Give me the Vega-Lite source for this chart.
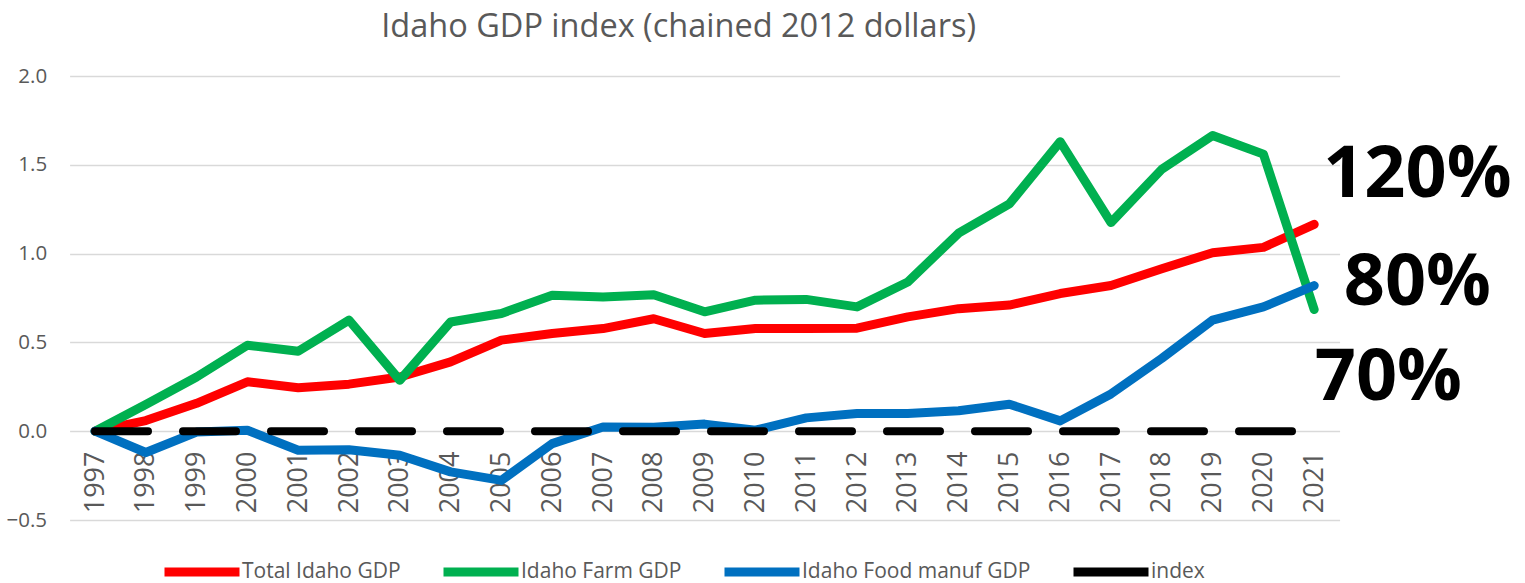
{
  "$schema": "https://vega.github.io/schema/vega-lite/v6.json",
  "width": 1270,
  "height": 444,
  "autosize": {"type": "none"},
  "padding": {"left": 69.6, "top": 76, "right": 185.4, "bottom": 63},
  "background": "white",
  "config": {
    "view": {"stroke": null},
    "font": "Open Sans",
    "axis": {"labelFont": "Open Sans", "labelColor": "#595959", "domain": false, "ticks": false, "tickSize": 0, "title": null},
    "legend": {"labelFont": "Open Sans"}
  },
  "title": {
    "text": "Idaho GDP index (chained 2012 dollars)",
    "font": "Open Sans",
    "fontSize": 32.5,
    "fontWeight": "normal",
    "color": "#595959",
    "anchor": "middle",
    "dx": -26,
    "offset": 23
  },
  "datasets": {
    "gdp": [
      {"year": 1997, "series": "Total Idaho GDP", "value": 0},
      {"year": 1998, "series": "Total Idaho GDP", "value": 0.06},
      {"year": 1999, "series": "Total Idaho GDP", "value": 0.157},
      {"year": 2000, "series": "Total Idaho GDP", "value": 0.278},
      {"year": 2001, "series": "Total Idaho GDP", "value": 0.245},
      {"year": 2002, "series": "Total Idaho GDP", "value": 0.265},
      {"year": 2003, "series": "Total Idaho GDP", "value": 0.305},
      {"year": 2004, "series": "Total Idaho GDP", "value": 0.39},
      {"year": 2005, "series": "Total Idaho GDP", "value": 0.513},
      {"year": 2006, "series": "Total Idaho GDP", "value": 0.55},
      {"year": 2007, "series": "Total Idaho GDP", "value": 0.578},
      {"year": 2008, "series": "Total Idaho GDP", "value": 0.633},
      {"year": 2009, "series": "Total Idaho GDP", "value": 0.55},
      {"year": 2010, "series": "Total Idaho GDP", "value": 0.578},
      {"year": 2011, "series": "Total Idaho GDP", "value": 0.578},
      {"year": 2012, "series": "Total Idaho GDP", "value": 0.58},
      {"year": 2013, "series": "Total Idaho GDP", "value": 0.644},
      {"year": 2014, "series": "Total Idaho GDP", "value": 0.69},
      {"year": 2015, "series": "Total Idaho GDP", "value": 0.71},
      {"year": 2016, "series": "Total Idaho GDP", "value": 0.775},
      {"year": 2017, "series": "Total Idaho GDP", "value": 0.82},
      {"year": 2018, "series": "Total Idaho GDP", "value": 0.915},
      {"year": 2019, "series": "Total Idaho GDP", "value": 1.005},
      {"year": 2020, "series": "Total Idaho GDP", "value": 1.035},
      {"year": 2021, "series": "Total Idaho GDP", "value": 1.165},
      {"year": 1997, "series": "Idaho Farm GDP", "value": 0},
      {"year": 1998, "series": "Idaho Farm GDP", "value": 0.15},
      {"year": 1999, "series": "Idaho Farm GDP", "value": 0.305},
      {"year": 2000, "series": "Idaho Farm GDP", "value": 0.484},
      {"year": 2001, "series": "Idaho Farm GDP", "value": 0.45},
      {"year": 2002, "series": "Idaho Farm GDP", "value": 0.625},
      {"year": 2003, "series": "Idaho Farm GDP", "value": 0.287},
      {"year": 2004, "series": "Idaho Farm GDP", "value": 0.615},
      {"year": 2005, "series": "Idaho Farm GDP", "value": 0.663},
      {"year": 2006, "series": "Idaho Farm GDP", "value": 0.766},
      {"year": 2007, "series": "Idaho Farm GDP", "value": 0.756},
      {"year": 2008, "series": "Idaho Farm GDP", "value": 0.768},
      {"year": 2009, "series": "Idaho Farm GDP", "value": 0.672},
      {"year": 2010, "series": "Idaho Farm GDP", "value": 0.738},
      {"year": 2011, "series": "Idaho Farm GDP", "value": 0.742},
      {"year": 2012, "series": "Idaho Farm GDP", "value": 0.7},
      {"year": 2013, "series": "Idaho Farm GDP", "value": 0.84},
      {"year": 2014, "series": "Idaho Farm GDP", "value": 1.115},
      {"year": 2015, "series": "Idaho Farm GDP", "value": 1.28},
      {"year": 2016, "series": "Idaho Farm GDP", "value": 1.63},
      {"year": 2017, "series": "Idaho Farm GDP", "value": 1.175},
      {"year": 2018, "series": "Idaho Farm GDP", "value": 1.475},
      {"year": 2019, "series": "Idaho Farm GDP", "value": 1.665},
      {"year": 2020, "series": "Idaho Farm GDP", "value": 1.56},
      {"year": 2021, "series": "Idaho Farm GDP", "value": 0.685},
      {"year": 1997, "series": "Idaho Food manuf GDP", "value": 0},
      {"year": 1998, "series": "Idaho Food manuf GDP", "value": -0.12},
      {"year": 1999, "series": "Idaho Food manuf GDP", "value": -0.005},
      {"year": 2000, "series": "Idaho Food manuf GDP", "value": 0.005},
      {"year": 2001, "series": "Idaho Food manuf GDP", "value": -0.107},
      {"year": 2002, "series": "Idaho Food manuf GDP", "value": -0.105},
      {"year": 2003, "series": "Idaho Food manuf GDP", "value": -0.135},
      {"year": 2004, "series": "Idaho Food manuf GDP", "value": -0.229},
      {"year": 2005, "series": "Idaho Food manuf GDP", "value": -0.277},
      {"year": 2006, "series": "Idaho Food manuf GDP", "value": -0.07},
      {"year": 2007, "series": "Idaho Food manuf GDP", "value": 0.024},
      {"year": 2008, "series": "Idaho Food manuf GDP", "value": 0.022},
      {"year": 2009, "series": "Idaho Food manuf GDP", "value": 0.04},
      {"year": 2010, "series": "Idaho Food manuf GDP", "value": 0.006},
      {"year": 2011, "series": "Idaho Food manuf GDP", "value": 0.075},
      {"year": 2012, "series": "Idaho Food manuf GDP", "value": 0.1},
      {"year": 2013, "series": "Idaho Food manuf GDP", "value": 0.1},
      {"year": 2014, "series": "Idaho Food manuf GDP", "value": 0.115},
      {"year": 2015, "series": "Idaho Food manuf GDP", "value": 0.152},
      {"year": 2016, "series": "Idaho Food manuf GDP", "value": 0.058},
      {"year": 2017, "series": "Idaho Food manuf GDP", "value": 0.21},
      {"year": 2018, "series": "Idaho Food manuf GDP", "value": 0.41},
      {"year": 2019, "series": "Idaho Food manuf GDP", "value": 0.625},
      {"year": 2020, "series": "Idaho Food manuf GDP", "value": 0.7},
      {"year": 2021, "series": "Idaho Food manuf GDP", "value": 0.82},
      {"year": 1997, "series": "index", "value": 0},
      {"year": 1998, "series": "index", "value": 0},
      {"year": 1999, "series": "index", "value": 0},
      {"year": 2000, "series": "index", "value": 0},
      {"year": 2001, "series": "index", "value": 0},
      {"year": 2002, "series": "index", "value": 0},
      {"year": 2003, "series": "index", "value": 0},
      {"year": 2004, "series": "index", "value": 0},
      {"year": 2005, "series": "index", "value": 0},
      {"year": 2006, "series": "index", "value": 0},
      {"year": 2007, "series": "index", "value": 0},
      {"year": 2008, "series": "index", "value": 0},
      {"year": 2009, "series": "index", "value": 0},
      {"year": 2010, "series": "index", "value": 0},
      {"year": 2011, "series": "index", "value": 0},
      {"year": 2012, "series": "index", "value": 0},
      {"year": 2013, "series": "index", "value": 0},
      {"year": 2014, "series": "index", "value": 0},
      {"year": 2015, "series": "index", "value": 0},
      {"year": 2016, "series": "index", "value": 0},
      {"year": 2017, "series": "index", "value": 0},
      {"year": 2018, "series": "index", "value": 0},
      {"year": 2019, "series": "index", "value": 0},
      {"year": 2020, "series": "index", "value": 0},
      {"year": 2021, "series": "index", "value": 0}
    ],
    "notes": [
      {"label": "120%", "year": 2023.03, "value": 1.318},
      {"label": "80%", "year": 2023.03, "value": 0.709},
      {"label": "70%", "year": 2022.46, "value": 0.175}
    ]
  },
  "layer": [
    {
      "data": {"name": "gdp"},
      "transform": [{"filter": "datum.series === 'Total Idaho GDP'"}],
      "mark": {"type": "line", "strokeWidth": 9, "strokeCap": "round", "strokeJoin": "round"},
      "encoding": {
        "x": {
          "field": "year", "type": "quantitative",
          "scale": {"domain": [1996.5, 2021.5], "nice": false, "zero": false},
          "axis": {
            "values": [1997,1998,1999,2000,2001,2002,2003,2004,2005,2006,2007,2008,2009,2010,2011,2012,2013,2014,2015,2016,2017,2018,2019,2020,2021],
            "format": "d", "labelAngle": -90, "labelAlign": "right", "labelBaseline": "middle",
            "labelFontSize": 27, "labelPadding": 20, "labelFlush": false, "labelOverlap": false,
            "grid": false, "offset": -89
          }
        },
        "y": {
          "field": "value", "type": "quantitative",
          "scale": {"domain": [-0.5, 2], "nice": false, "zero": false},
          "axis": {
            "values": [-0.5, 0, 0.5, 1, 1.5, 2], "format": ".1f",
            "labelFontSize": 20.5, "labelPadding": 23,
            "grid": true, "gridColor": "#D9D9D9", "gridWidth": 1.5
          }
        },
        "color": {
          "field": "series", "type": "nominal",
          "scale": {
            "domain": ["Total Idaho GDP", "Idaho Farm GDP", "Idaho Food manuf GDP", "index"],
            "range": ["#FF0000", "#00B050", "#0070C0", "#000000"]
          },
          "legend": {
            "orient": "none", "direction": "horizontal", "title": null,
            "legendX": 90.4, "legendY": 454, "padding": 0,
            "symbolType": "stroke", "symbolSize": 5625, "symbolStrokeWidth": 9,
            "labelFontSize": 21, "labelColor": "#595959", "labelOffset": -2,
            "columnPadding": 24, "labelLimit": 400
          }
        }
      }
    },
    {
      "data": {"name": "gdp"},
      "transform": [{"filter": "datum.series === 'Idaho Farm GDP'"}],
      "mark": {"type": "line", "strokeWidth": 9, "strokeCap": "round", "strokeJoin": "round"},
      "encoding": {
        "x": {"field": "year", "type": "quantitative"},
        "y": {"field": "value", "type": "quantitative"},
        "color": {"field": "series", "type": "nominal"}
      }
    },
    {
      "data": {"name": "gdp"},
      "transform": [{"filter": "datum.series === 'Idaho Food manuf GDP'"}],
      "mark": {"type": "line", "strokeWidth": 9, "strokeCap": "round", "strokeJoin": "round"},
      "encoding": {
        "x": {"field": "year", "type": "quantitative"},
        "y": {"field": "value", "type": "quantitative"},
        "color": {"field": "series", "type": "nominal"}
      }
    },
    {
      "data": {"name": "gdp"},
      "transform": [{"filter": "datum.series === 'index'"}],
      "mark": {"type": "line", "strokeWidth": 8, "strokeCap": "round", "strokeDash": [53, 35]},
      "encoding": {
        "x": {"field": "year", "type": "quantitative"},
        "y": {"field": "value", "type": "quantitative"},
        "color": {"field": "series", "type": "nominal"}
      }
    },
    {
      "data": {"name": "notes"},
      "mark": {"type": "text", "font": "Open Sans", "fontWeight": "bold", "fontSize": 72, "color": "#000000", "align": "center", "baseline": "alphabetic"},
      "encoding": {
        "x": {"field": "year", "type": "quantitative"},
        "y": {"field": "value", "type": "quantitative"},
        "text": {"field": "label", "type": "nominal"}
      }
    }
  ]
}
